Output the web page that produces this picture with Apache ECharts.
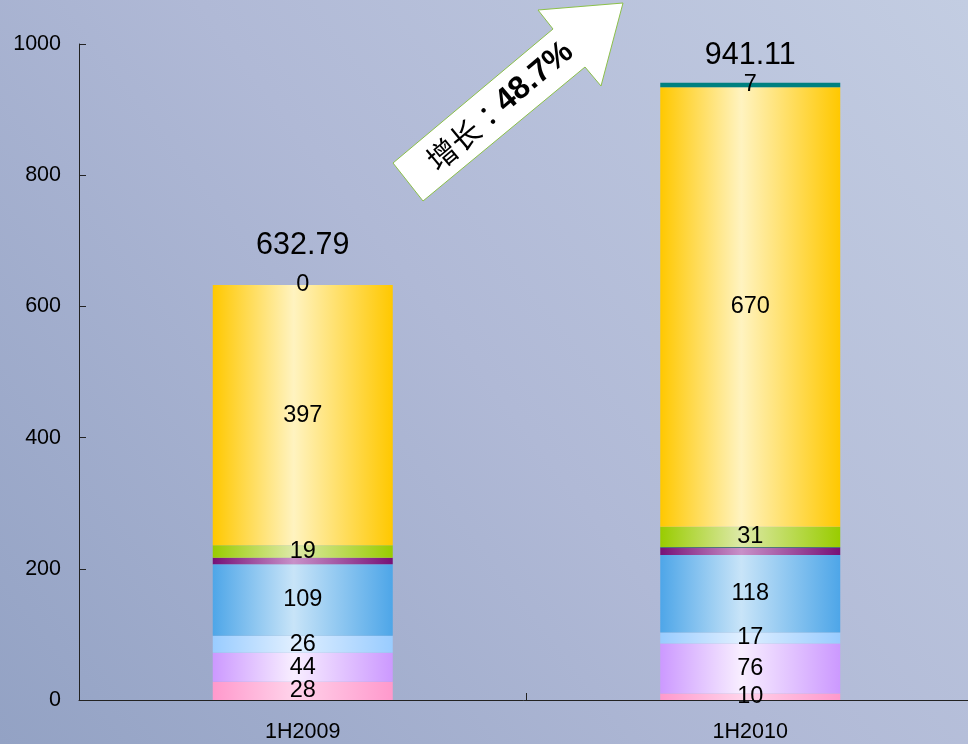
<!DOCTYPE html>
<html><head><meta charset="utf-8">
<script src="https://cdn.jsdelivr.net/npm/echarts@6/dist/echarts.min.js"></script>
<style>html,body{margin:0;padding:0;}#c{width:968px;height:744px;}</style>
</head><body><div id="c"></div>
<script>
const categories = ['1H2009', '1H2010'];
const pink = [28, 10];
const lavender = [44, 76];
const lightBlue = [26, 17];
const blue = [109, 118];
const purple = [9.8, 11];
const darkLine = [0, 1.1];
const green = [19, 31];
const yellow = [397, 670];
const teal = [0, 7];
const totals = [632.79, 941.11];
const totalOffsets = [[0, -19], [0, -7]];
const yTicks = [0, 200, 400, 600, 800, 1000];

function grad(edge, mid) {
  return new echarts.graphic.LinearGradient(0, 0, 1, 0, [
    {offset: 0, color: edge}, {offset: 0.45, color: mid}, {offset: 1, color: edge}
  ]);
}
const FONT = '"Liberation Sans", Arial, sans-serif';
const lbl = {show: true, position: 'inside', color: '#000', fontSize: 23.5, fontFamily: FONT};

function seg(name, data, edge, mid, showLabel) {
  return {
    name, type: 'bar', stack: 's', data, barWidth: 180,
    itemStyle: {color: mid ? grad(edge, mid) : edge},
    label: showLabel ? lbl : {show: false}
  };
}

const chart = echarts.init(document.getElementById('c'));
chart.setOption({
  animation: false,
  backgroundColor: new echarts.graphic.LinearGradient(0, 1, 1, 0, [
    {offset: 0, color: '#93a2c4'}, {offset: 0.5, color: '#b0b9d6'}, {offset: 1, color: '#c3cde2'}
  ]),
  grid: {left: 79, right: -6, top: 44, bottom: 44, outerBoundsMode: 'none', containLabel: false},
  xAxis: {
    type: 'category', data: categories,
    axisLine: {lineStyle: {color: '#222', width: 1}},
    axisTick: {show: true, inside: true, length: 7, lineStyle: {color: '#222'}},
    axisLabel: {color: '#000', fontSize: 21.5, fontFamily: FONT, margin: 21}
  },
  yAxis: {
    type: 'value', min: 0, max: 1000, interval: 200,
    axisLine: {show: true, lineStyle: {color: '#222', width: 1}},
    axisTick: {show: true, inside: true, length: 7, lineStyle: {color: '#222'}},
    splitLine: {show: false},
    axisLabel: {color: '#000', fontSize: 21.5, fontFamily: FONT, margin: 18,
      formatter: v => yTicks.includes(v) ? String(v) : ''}
  },
  series: [
    seg('pink', pink, '#ff99cc', '#ffd3ea', true),
    seg('lavender', lavender, '#cc99ff', '#f8eeff', true),
    seg('lightBlue', lightBlue, '#99ccff', '#e0efff', true),
    seg('blue', blue, '#4ea6e8', '#c8e4f8', true),
    seg('purple', purple, '#771177', '#c890c8', false),
    seg('darkLine', darkLine, '#2f6660', null, false),
    seg('green', green, '#99cc00', '#dde9a8', true),
    seg('yellow', yellow, '#ffc800', '#fff3c0', true),
    seg('teal', teal, '#008080', null, true),
    {
      name: 'total', type: 'bar', barGap: '-100%', barWidth: 180, silent: true, z: 1,
      data: totals.map((v, i) => ({value: v, label: {offset: totalOffsets[i]}})),
      itemStyle: {color: 'rgba(0,0,0,0)'},
      label: {show: true, position: 'top', color: '#000', fontSize: 30.5, fontFamily: FONT}
    }
  ],
  graphic: [
    {
      type: 'polygon', z: 10,
      shape: {points: [[393,163],[553,29],[538,10],[623,3],[601,86],[585,67],[423,201]]},
      style: {fill: '#ffffff', stroke: '#8cc04a', lineWidth: 1}
    },
    {
      type: 'text', z: 11, x: 500, y: 106, rotation: 40 * Math.PI / 180,
      style: {
        text: '{a|增长：}{b|48.7%}', align: 'center', verticalAlign: 'middle',
        rich: {
          a: {fontSize: 30, fontFamily: '"Noto Sans CJK TC", sans-serif', fill: '#000', color: '#000'},
          b: {fontSize: 32, fontWeight: 'bold', fontFamily: FONT, fill: '#000', color: '#000'}
        }
      }
    }
  ]
});
</script></body></html>
